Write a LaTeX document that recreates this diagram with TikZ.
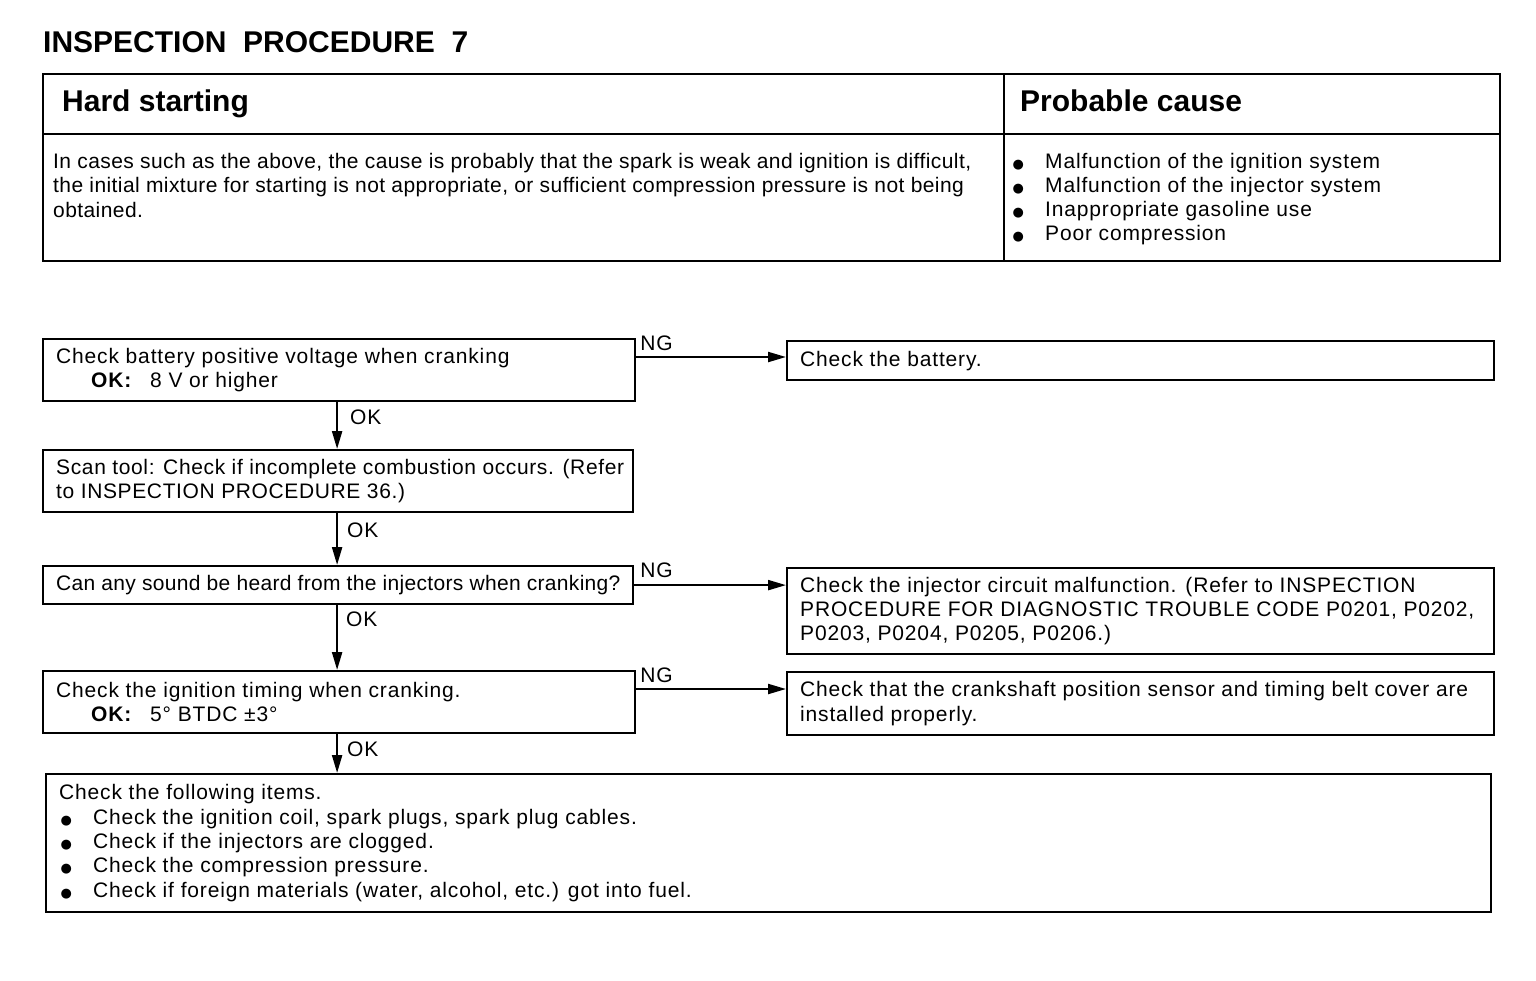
\documentclass[tikz,border=0pt]{standalone}
\usepackage{fontspec}
\setmainfont{Liberation Sans}
\newfontfamily\flowfont[LetterSpace=4]{Liberation Sans}
\newfontfamily\flowfontb[LetterSpace=3]{Liberation Sans}
\newfontfamily\flowfontc[LetterSpace=1.5]{Liberation Sans}
\newfontfamily\descfont[LetterSpace=2]{Liberation Sans}
\newfontfamily\dejavu{DejaVu Sans}
\usetikzlibrary{arrows.meta,calc}
\newcommand\flsz{\flowfont\fontsize{21}{24.3}\selectfont}
\newcommand\flszb{\flowfontb\fontsize{21}{24.3}\selectfont}
\newcommand\flszc{\flowfontc\fontsize{21}{24.3}\selectfont}
\newcommand\descsz{\descfont\fontsize{21}{24.5}\selectfont}
\newcommand\causesz{\flowfont\fontsize{21}{24.3}\selectfont}
\newcommand\bigsz{\bfseries\fontsize{30}{32}\selectfont}
\newcommand\bul{\makebox[34pt][l]{\hspace*{1.5pt}{\dejavu\fontsize{13}{13}\selectfont ●}}}
\newcommand\okx{\hspace*{35pt}\textbf{OK:}\hspace{18pt}}
\begin{document}
\begin{tikzpicture}[x=1pt,y=-1pt,
  box/.style={draw, line width=2.2pt, rectangle, inner sep=0pt, anchor=north west},
  txt/.style={inner sep=0pt, align=left, anchor=west, font=\flsz},
  tabtxt/.style={inner sep=0pt, align=left, anchor=north west},
  hdr/.style={inner sep=0pt, anchor=base west, font=\bigsz},
  arr/.style={line width=2.2pt, -{Triangle[length=18pt,width=10pt]}},
  lbl/.style={inner sep=0pt, anchor=west, font=\flsz}]
\useasboundingbox[fill=white] (0,0) rectangle (1536,980);

% title
\node[hdr] (title) at (43,52) {INSPECTION\ \ PROCEDURE\ \ 7};

% table
\draw[line width=1.2pt] (43,134) -- (1500,134);
\draw[line width=1.2pt] (1004,74) -- (1004,261);
\draw[line width=2.5pt] (43,74) rectangle (1500,261);
\node[hdr] (hard) at (62,111) {Hard starting};
\node[hdr] (prob) at (1020,111) {Probable cause};
\node[tabtxt, font=\descsz] (desc) at (53,150.85) {\strut In cases such as the above, the cause is probably that the spark is weak and ignition is difficult,\\the initial mixture for starting is not appropriate, or sufficient compression pressure is not being\\obtained.};
\node[tabtxt, font=\causesz] (causes) at (1011,150.85) {\strut\bul Malfunction of the ignition system\\\bul Malfunction of the injector system\\\bul Inappropriate gasoline use\\\bul Poor compression};

% flow boxes
\node[box, minimum width=592pt, minimum height=62pt] (b1) at (42,338) {};
\node[txt] (b1t) at ([xshift=14pt]b1.west) {Check battery positive voltage when cranking\\\okx 8 V or higher};
\node[box, minimum width=707pt, minimum height=39pt] (r1) at (786,340) {};
\node[txt] (r1t) at ([xshift=14pt]r1.west) {Check the battery.};

\node[box, minimum width=590pt, minimum height=62pt] (b2) at (42,449) {};
\node[txt, font=\flszb] (b2t) at ([xshift=14pt]b2.west) {Scan tool: Check if incomplete combustion occurs. (Refer\\to INSPECTION PROCEDURE 36.)};

\node[box, minimum width=590pt, minimum height=38pt] (b3) at (42,565) {};
\node[txt, font=\flszc] (b3t) at ([xshift=14pt]b3.west) {Can any sound be heard from the injectors when cranking?};
\node[box, minimum width=707pt, minimum height=86pt] (r2) at (786,567) {};
\node[txt] (r2t) at ([xshift=14pt]r2.west) {Check the injector circuit malfunction. (Refer to INSPECTION\\PROCEDURE FOR DIAGNOSTIC TROUBLE CODE P0201, P0202,\\P0203, P0204, P0205, P0206.)};

\node[box, minimum width=592pt, minimum height=62pt] (b4) at (42,670) {};
\node[txt] (b4t) at ([xshift=14pt]b4.west) {Check the ignition timing when cranking.\\\okx 5° BTDC ±3°};
\node[box, minimum width=707pt, minimum height=63pt] (r3) at (786,671) {};
\node[txt] (r3t) at ([xshift=14pt]r3.west) {Check that the crankshaft position sensor and timing belt cover are\\installed properly.};

\node[box, minimum width=1445pt, minimum height=138pt] (b5) at (45,773) {};
\node[txt] (b5t) at ([xshift=14pt]b5.west) {Check the following items.\\\bul Check the ignition coil, spark plugs, spark plug cables.\\\bul Check if the injectors are clogged.\\\bul Check the compression pressure.\\\bul Check if foreign materials (water, alcohol, etc.) got into fuel.};

% OK arrows
\draw[arr] ([xshift=-2pt]b1.south) -- ([xshift=-2pt]b1.south |- b2.north) node[lbl, pos=0, xshift=12pt, yshift=-15pt] (ok1) {OK};
\draw[arr] ([xshift=-1pt]b2.south) -- ([xshift=-1pt]b2.south |- b3.north) node[lbl, pos=0, xshift=9pt, yshift=-17pt] (ok2) {OK};
\draw[arr] ([xshift=-1pt]b3.south) -- ([xshift=-1pt]b3.south |- b4.north) node[lbl, pos=0, xshift=8pt, yshift=-14pt] (ok3) {OK};
\draw[arr] ([xshift=-2pt]b4.south) -- ([xshift=-2pt]b4.south |- b5.north) node[lbl, pos=0, xshift=9pt, yshift=-15pt] (ok4) {OK};

% NG arrows
\draw[arr] ([yshift=-19pt]b1.north east) -- ([yshift=-19pt]b1.north east -| r1.west);
\node[lbl] (ng1) at ([xshift=4pt,yshift=-5pt]b1.north east) {NG};
\draw[arr] (b3.east) -- (b3.east -| r2.west);
\node[lbl] (ng2) at ([xshift=6pt,yshift=-5pt]b3.north east) {NG};
\draw[arr] ([yshift=-19pt]b4.north east) -- ([yshift=-19pt]b4.north east -| r3.west);
\node[lbl] (ng3) at ([xshift=4pt,yshift=-5pt]b4.north east) {NG};
\end{tikzpicture}
\end{document}
